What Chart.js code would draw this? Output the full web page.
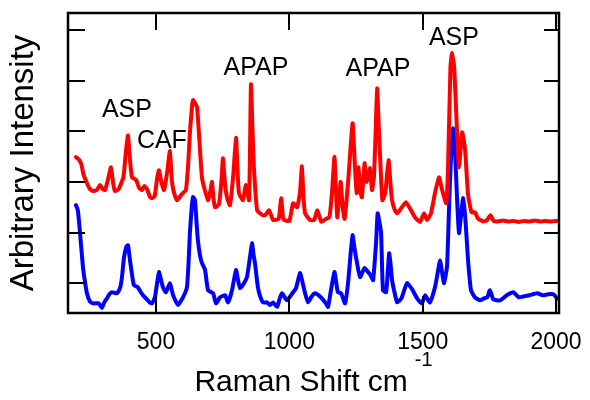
<!DOCTYPE html>
<html>
<head>
<meta charset="utf-8">
<script src="https://cdn.jsdelivr.net/npm/chart.js@4/dist/chart.umd.min.js"></script>
<style>
html,body{margin:0;padding:0;background:#fff;}
#wrap{width:590px;height:400px;}
</style>
</head>
<body>
<div id="wrap"><canvas id="c" width="590" height="400"></canvas></div>
<script>
// ---- data ----
const redShift = [
 200,210,220,228,241,252,264,278,290,300,
 309,320,331,340,346,360,378,387,395,403,
 410,425,437,447,456,466,478,485,495,505,
 511,520,530,542,552,560,568,579,597,612,
 620,627,635,639,647,654,665,672,680,695,
 703,710,715,721,736,745,751,758,766,777,
 789,800,806,811,826,837,849,856,862,867,
 879,890,901,912,924,939,960,969,976,980,
 1000,1014,1029,1040,1047,1053,1059,1077,1093,1105,
 1120,1137,1150,1160,1169,1175,1180,1192,1200,1207,
 1220,1237,1245,1252,1259,1266,1272,1282,1289,1296,
 1302,1310,1317,1323,1329,1336,1342,1349,1360,1372,
 1380,1385,1395,1404,1422,1437,1452,1471,1490,1505,
 1516,1531,1546,1561,1570,1576,1588,1595,1604,1610,
 1618,1629,1636,1648,1659,1670,1683,1696,1707,1726,
 1740,1754,1766,1780,1800,1820,1840,1860,1880,1900,
 1920,1940,1960,1980,2004
];
const redIntensity = [
 2.49,2.45,2.35,2.15,1.98,1.86,1.82,1.84,1.94,1.86,
 1.84,2.05,2.29,1.95,1.82,1.86,2.10,2.60,2.92,2.40,
 2.09,2.04,1.88,1.84,1.92,1.86,1.70,1.68,1.72,2.10,
 2.23,2.00,1.84,2.20,2.61,2.00,1.78,1.64,1.76,1.84,
 2.30,2.96,3.50,3.62,3.55,3.48,2.63,2.10,1.90,1.64,
 1.80,2.00,1.70,1.50,1.56,2.00,2.47,2.00,1.70,1.54,
 2.09,2.87,2.20,1.78,1.64,1.94,1.64,3.93,3.00,2.29,
 1.44,1.38,1.34,1.36,1.44,1.25,1.27,1.68,1.30,1.25,
 1.23,1.58,1.50,1.80,2.31,1.70,1.38,1.25,1.25,1.44,
 1.21,1.27,1.30,1.80,2.50,1.80,1.30,2.00,1.50,1.27,
 1.98,3.16,2.40,1.78,2.29,1.80,1.70,2.37,2.00,2.09,
 2.27,1.84,2.09,2.90,3.85,3.00,2.29,1.64,1.80,2.43,
 1.90,1.64,1.45,1.38,1.50,1.60,1.48,1.30,1.21,1.38,
 1.25,1.38,1.78,2.09,1.90,1.78,1.58,2.29,4.27,4.55,
 4.27,2.96,2.29,2.98,2.63,1.75,1.40,1.40,1.28,1.22,
 1.24,1.34,1.23,1.22,1.24,1.22,1.23,1.21,1.23,1.22,
 1.24,1.22,1.23,1.22,1.23
];
const blueShift = [
 200,207,215,226,233,241,252,264,285,297,
 306,316,325,335,354,365,372,380,389,395,
 400,406,417,432,441,451,466,476,485,496,
 504,511,518,526,537,552,560,567,582,601,
 616,622,627,634,639,646,652,657,665,672,
 684,695,714,725,740,759,770,785,800,808,
 815,830,841,852,860,866,871,882,890,901,
 916,927,939,954,964,972,991,1014,1025,1040,
 1048,1059,1070,1084,1096,1110,1122,1137,1145,1156,
 1169,1176,1182,1194,1209,1220,1230,1237,1244,1252,
 1265,1282,1295,1305,1314,1325,1331,1338,1344,1351,
 1363,1374,1380,1385,1395,1404,1420,1441,1460,1479,
 1497,1509,1527,1546,1556,1565,1573,1580,1591,1597,
 1602,1608,1614,1621,1629,1636,1645,1651,1657,1662,
 1670,1681,1696,1715,1730,1742,1752,1765,1790,1815,
 1840,1860,1880,1900,1929,1950,1970,1990,2004
];
const blueIntensity = [
 1.54,1.44,1.00,0.32,0.05,-0.20,-0.36,-0.40,-0.40,-0.49,
 -0.38,-0.30,-0.22,-0.18,-0.20,-0.10,0.10,0.51,0.72,0.75,
 0.55,0.32,-0.04,-0.08,-0.16,-0.24,-0.32,-0.38,-0.40,-0.28,
 0.00,0.22,0.08,-0.08,-0.18,0.00,-0.16,-0.28,-0.43,-0.28,
 -0.08,0.40,0.99,1.50,1.70,1.64,1.20,0.85,0.55,0.40,
 0.26,-0.14,-0.20,-0.40,-0.28,-0.24,-0.38,-0.14,0.26,0.05,
 -0.10,0.00,0.12,0.50,0.79,0.55,0.40,-0.08,-0.25,-0.38,
 -0.38,-0.43,-0.38,-0.47,-0.30,-0.20,-0.34,-0.18,-0.10,0.20,
 0.05,-0.20,-0.38,-0.26,-0.20,-0.24,-0.30,-0.40,-0.47,-0.14,
 0.22,0.00,-0.18,-0.20,-0.40,0.00,0.60,0.95,0.70,0.45,
 0.12,0.30,0.22,0.15,0.06,0.79,1.38,1.20,0.99,-0.14,
 -0.18,0.59,0.35,0.06,-0.20,-0.38,-0.30,0.00,-0.12,-0.30,
 -0.40,-0.24,-0.38,-0.08,0.20,0.45,0.20,0.00,0.32,1.20,
 1.98,2.70,3.06,2.63,1.64,0.99,1.40,1.68,1.45,1.11,
 0.45,-0.14,-0.28,-0.34,-0.30,-0.28,-0.14,-0.32,-0.34,-0.24,
 -0.18,-0.28,-0.26,-0.24,-0.20,-0.24,-0.22,-0.22,-0.30
];
const xTickValues = [500, 1000, 1500, 2000];
const xTickLabels = ["500", "1000", "1500", "2000"];
const yTickValues = [0, 1, 2, 3, 4, 5];
const annoText  = ["ASP", "CAF", "APAP", "APAP", "ASP"];
const annoShift = [391, 522, 875, 1332, 1617];
const annoLevel = [3.28, 2.67, 4.11, 4.09, 4.70];
const xTitle = "Raman Shift cm";
const xTitleSup = "-1";
const yTitle = "Arbitrary Intensity";

const FONT = '"Liberation Sans", Arial, Helvetica, sans-serif';

function pairs(xs, ys){ return xs.map((x,i)=>({x:x, y:ys[i]})); }

const framePlugin = {
  id: 'frame',
  afterDatasetsDraw(chart){
    const ctx = chart.ctx, a = chart.chartArea;
    const xs = chart.scales.x, ys = chart.scales.y;
    ctx.save();
    ctx.strokeStyle = '#000';
    // ticks (inward on all four sides)
    ctx.lineWidth = 2;
    const L = 17;
    ctx.beginPath();
    xTickValues.forEach(v=>{
      const px = Math.round(xs.getPixelForValue(v));
      ctx.moveTo(px, a.bottom); ctx.lineTo(px, a.bottom - L);
      ctx.moveTo(px, a.top); ctx.lineTo(px, a.top + L);
    });
    yTickValues.forEach(v=>{
      const py = Math.round(ys.getPixelForValue(v));
      ctx.moveTo(a.left, py); ctx.lineTo(a.left + L, py);
      ctx.moveTo(a.right, py); ctx.lineTo(a.right - L + 2, py);
    });
    ctx.stroke();
    // frame
    ctx.lineWidth = 2.5;
    ctx.strokeRect(a.left, a.top, a.right - a.left, a.bottom - a.top);

    ctx.fillStyle = '#000';
    // tick labels
    ctx.font = '23px ' + FONT;
    ctx.textAlign = 'center';
    ctx.textBaseline = 'alphabetic';
    xTickValues.forEach((v,i)=>{
      ctx.fillText(xTickLabels[i], xs.getPixelForValue(v), a.bottom + 36);
    });
    // x title with superscript
    ctx.font = '30px ' + FONT;
    const w1 = ctx.measureText(xTitle).width;
    ctx.font = '20px ' + FONT;
    const w2 = ctx.measureText(xTitleSup).width;
    const gap = 7;
    const cx = (a.left + a.right) / 2;
    const start = cx - (w1 + gap + w2) / 2;
    ctx.textAlign = 'left';
    ctx.font = '30px ' + FONT;
    ctx.fillText(xTitle, start, 391);
    ctx.font = '20px ' + FONT;
    ctx.fillText(xTitleSup, start + w1 + gap, 366);
    // y title
    ctx.save();
    ctx.translate(33, (a.top + a.bottom) / 2);
    ctx.rotate(-Math.PI / 2);
    ctx.font = '33px ' + FONT;
    ctx.textAlign = 'center';
    ctx.fillText(yTitle, 0, 0);
    ctx.restore();
    // peak annotations
    ctx.font = '25px ' + FONT;
    ctx.textAlign = 'center';
    annoText.forEach((t,i)=>{
      ctx.fillText(t, xs.getPixelForValue(annoShift[i]), ys.getPixelForValue(annoLevel[i]));
    });
    ctx.restore();
  }
};

new Chart(document.getElementById('c'), {
  type: 'line',
  data: {
    datasets: [
      { label: 'red', data: pairs(redShift, redIntensity), borderColor: '#ff0000',
        borderWidth: 4, pointRadius: 0, tension: 0.15, fill: false, borderJoinStyle: 'round', borderCapStyle: 'round' },
      { label: 'blue', data: pairs(blueShift, blueIntensity), borderColor: '#0000ff',
        borderWidth: 4, pointRadius: 0, tension: 0.15, fill: false, borderJoinStyle: 'round', borderCapStyle: 'round' }
    ]
  },
  options: {
    responsive: false,
    animation: false,
    devicePixelRatio: 1,
    layout: { padding: { left: 68, right: 31, top: 13, bottom: 87 } },
    plugins: { legend: { display: false }, tooltip: { enabled: false } },
    scales: {
      x: { type: 'linear', min: 170, max: 2011, display: false },
      y: { type: 'linear', min: -0.59, max: 5.34, display: false }
    }
  },
  plugins: [framePlugin]
});
</script>
</body>
</html>
